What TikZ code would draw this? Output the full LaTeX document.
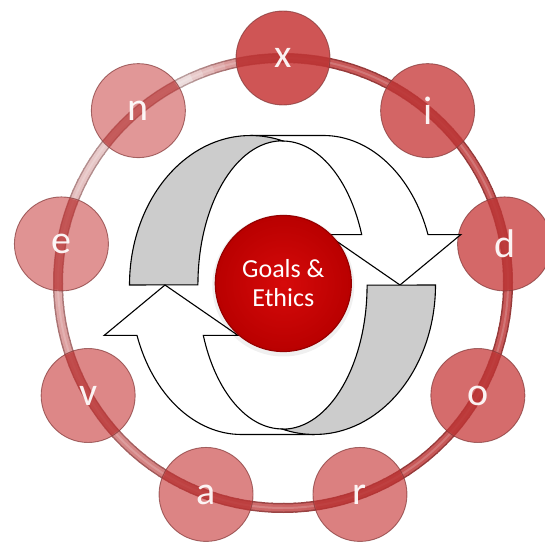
\documentclass[tikz,border=0pt]{standalone}
\usepackage{fontspec}
\setmainfont{Carlito}
\usetikzlibrary{calc}
\definecolor{ringred}{RGB}{200,88,88}
\definecolor{ringlight}{RGB}{238,224,224}
\definecolor{edgered}{RGB}{150,58,58}
\definecolor{edgelight}{RGB}{185,160,160}
\definecolor{ballred}{RGB}{200,62,62}
\definecolor{balledge}{RGB}{130,55,55}
\definecolor{bandred}{RGB}{175,45,45}
\definecolor{arrowgray}{RGB}{204,204,204}
\definecolor{goalin}{RGB}{214,10,10}
\definecolor{goalout}{RGB}{185,0,0}
\definecolor{goaledge}{RGB}{150,0,0}
\begin{document}
\begin{tikzpicture}[x=1pt,y=1pt,
  ball/.style={circle, minimum size=94pt, inner sep=0pt, fill=ballred,
    draw=balledge, draw opacity=0.7, line width=0.9pt},
  balltext/.style={text=white, text opacity=0.93, font=\fontsize{40}{40}\selectfont},
  arrowpart/.style={draw=black, line width=1.1pt, line join=miter},
  goalball/.style={circle, minimum size=136pt, inner sep=0pt,
    inner color=goalin, outer color=goalout, draw=goaledge, line width=1.2pt,
    text=white, align=center, font=\fontsize{26}{29}\selectfont}
]
\clip (0,0) rectangle (545,543);
\coordinate (O) at (283,260);
% ring: dark edge, then core
\foreach \a in {0,3,...,357}{
  \pgfmathtruncatemacro\t{100*ifthenelse(\a<115, max(0,1-(115-\a)/25), max(0,1-(\a-115)/170))}
  \draw[line width=10pt, color=edgelight!\t!edgered] (O) ++(\a:225) arc[start angle=\a, end angle=\a+3.4, radius=225];
}
\foreach \a in {0,3,...,357}{
  \pgfmathtruncatemacro\t{100*ifthenelse(\a<115, max(0,1-(115-\a)/25), max(0,1-(\a-115)/170))}
  \draw[line width=7pt, color=ringlight!\t!ringred] (O) ++(\a:225) arc[start angle=\a, end angle=\a+3.4, radius=225];
}
\draw[white, opacity=0.18, line width=2pt] (O) circle[radius=225];
% balls
\foreach \name/\ang/\op in {x/90/.88, i/50/.8, d/10/.78, o/-30/.76, r/-70/.66, a/-110/.64, v/-150/.62, e/170/.56, n/130/.54}{
  \node[ball, fill opacity=\op] (\name) at ($(O)+(\ang:225)$) {};
}
% ring band seen through the balls
\begin{scope}
  \clip (x) circle[radius=46] (i) circle[radius=46] (d) circle[radius=46]
        (o) circle[radius=46] (r) circle[radius=46] (a) circle[radius=46]
        (v) circle[radius=46] (e) circle[radius=46] (n) circle[radius=46];
  \draw[bandred, opacity=0.45, line width=9pt] (O) circle[radius=225];
\end{scope}
\foreach \name in {x,i,d,o,r,a,v,e,n}{
  \node[balltext] at (\name) {\name};
}
% cycle arrows
\begin{scope}[shift={(282.5,258)}]
  \foreach \rot in {0,180}{
    \begin{scope}[rotate=\rot]
      \path[arrowpart, fill=white] (-32,149.5) -- (41,149.5)
        arc[start angle=90, end angle=19.7, x radius=111, y radius=149.5]
        -- (178.3,50.4) -- (117.5,0) -- (44.5,50.4) -- (79.2,50.4)
        arc[start angle=20.5, end angle=90, x radius=84.5, y radius=144] -- cycle;
      \path[arrowpart, fill=arrowgray] (-153,0)
        arc[start angle=180, end angle=74.7, x radius=121, y radius=149.5]
        arc[start angle=90, end angle=180, x radius=84.5, y radius=144] -- cycle;
    \end{scope}
  }
\end{scope}
% centre
\fill[black, opacity=0.06] (283.3,257.5) circle[radius=71];
\node[goalball] (goals) at (283.3,259.5) {Goals \&\\Ethics};
\end{tikzpicture}
\end{document}
